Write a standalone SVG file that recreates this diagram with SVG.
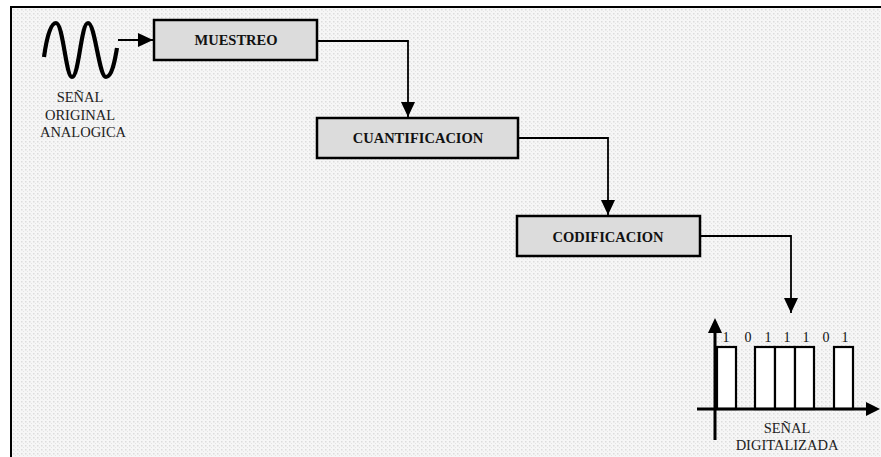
<svg xmlns="http://www.w3.org/2000/svg" width="881" height="457" viewBox="0 0 881 457">
<defs>
<pattern id="dots" width="4" height="4" patternUnits="userSpaceOnUse">
<rect width="4" height="4" fill="#f6f6f6"/>
<rect x="1" y="1" width="1.5" height="1.5" fill="#dcdcdc"/>
<rect x="3" y="3" width="1" height="1" fill="#e4e4e4"/>
</pattern>
<marker id="ah" markerUnits="userSpaceOnUse" markerWidth="16" markerHeight="14" refX="15" refY="7" orient="auto">
<path d="M0,0 L15,7 L0,14 Z" fill="#000"/>
</marker>
<marker id="ah2" markerUnits="userSpaceOnUse" markerWidth="16" markerHeight="14" refX="15" refY="7" orient="auto">
<path d="M0,0 L15,7 L0,14 Z" fill="#000"/>
</marker>
</defs>
<style>
.box{fill:#dcdcdc;stroke:#000;stroke-width:2.5}
.lbl{font-family:"Liberation Serif",serif;font-weight:bold;font-size:14.5px;text-anchor:middle;fill:#111}
.txt{font-family:"Liberation Serif",serif;font-size:14.5px;text-anchor:middle;fill:#222}
.bit{font-family:"Liberation Serif",serif;font-size:14px;text-anchor:middle;fill:#111}
.con{fill:none;stroke:#000;stroke-width:1.8}
.pulse{fill:#fff;stroke:#000;stroke-width:2.2}
.axis{fill:none;stroke:#000;stroke-width:3}
</style>
<rect width="881" height="457" fill="#fff"/>
<rect x="11" y="7" width="880" height="460" fill="url(#dots)" stroke="#000" stroke-width="2"/>

<g id="analog">
<path d="M44,57 C47,35 51,23 56,23 C63,23 66,77 72,77 C79,77 81,23 88,23 C95,23 99,77 106,77 C112,77 115,60 117,48" fill="none" stroke="#000" stroke-width="4.2" stroke-linecap="butt"/>
<text class="txt" x="80" y="102">SEÑAL</text>
<text class="txt" x="80" y="120">ORIGINAL</text>
<text class="txt" x="83" y="137">ANALOGICA</text>
</g>

<g id="muestreo">
<rect class="box" x="154" y="20" width="163" height="40"/>
<text class="lbl" x="236" y="44.5">MUESTREO</text>
</g>

<g id="cuantificacion">
<rect class="box" x="317" y="118" width="201" height="40"/>
<text class="lbl" x="418" y="143">CUANTIFICACION</text>
</g>

<g id="codificacion">
<rect class="box" x="517" y="216" width="183" height="40"/>
<text class="lbl" x="608" y="242">CODIFICACION</text>
</g>

<g id="connectors">
<path class="con" d="M118,40 L153,40" marker-end="url(#ah)"/>
<path class="con" d="M317,41 L408,41 L408,117" marker-end="url(#ah)"/>
<path class="con" d="M518,138 L608,138 L608,215" marker-end="url(#ah)"/>
<path class="con" d="M700,236 L791,236 L791,313" marker-end="url(#ah)"/>
</g>

<g id="digital">
<rect class="pulse" x="717" y="347" width="19" height="62"/>
<rect class="pulse" x="755" y="347" width="20" height="62"/>
<rect class="pulse" x="775" y="347" width="20" height="62"/>
<rect class="pulse" x="795" y="347" width="19" height="62"/>
<rect class="pulse" x="834" y="347" width="19" height="62"/>
<path class="axis" d="M715,440 L715,332"/>
<path d="M708,333 L715,318 L722,333 Z" fill="#000"/>
<path class="axis" d="M697,409 L867,409"/>
<path d="M866,402 L880,409 L866,416 Z" fill="#000"/>
<text class="bit" x="726" y="342">1</text>
<text class="bit" x="748" y="342">0</text>
<text class="bit" x="768" y="342">1</text>
<text class="bit" x="787" y="342">1</text>
<text class="bit" x="806" y="342">1</text>
<text class="bit" x="826" y="342">0</text>
<text class="bit" x="845" y="342">1</text>
<text class="txt" x="787" y="433">SEÑAL</text>
<text class="txt" x="787" y="450">DIGITALIZADA</text>
</g>
</svg>
